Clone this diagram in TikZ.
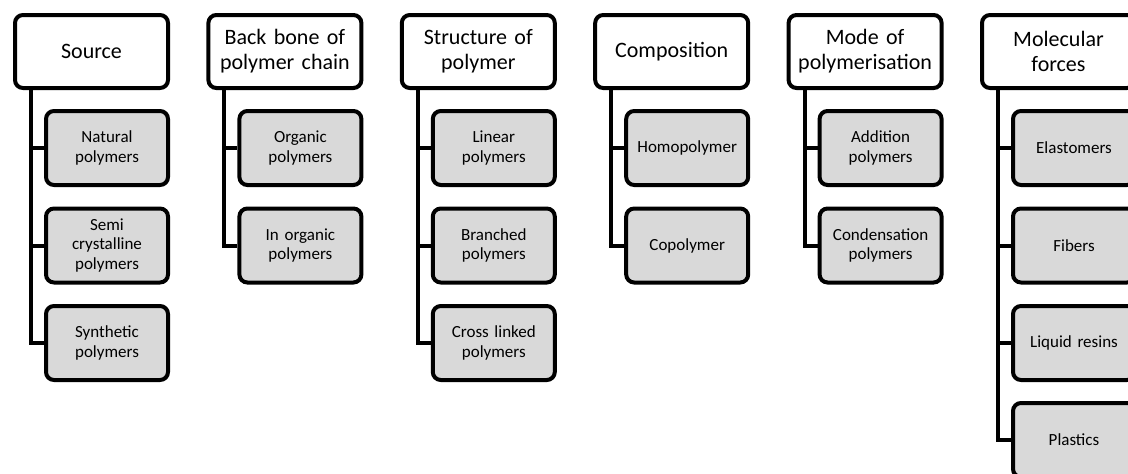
\documentclass[tikz,border=0pt]{standalone}
\usepackage{fontspec}
\setmainfont{Carlito}
\definecolor{boxgray}{HTML}{D9D9D9}
\begin{document}
\begin{tikzpicture}[x=1pt,y=-1pt,
  parentbox/.style={draw, line width=4pt, rounded corners=8pt, fill=white,
    minimum width=153pt, minimum height=73pt, text width=150pt, align=center,
    font=\fontsize{22}{25}\selectfont, inner sep=0pt},
  childbox/.style={draw, line width=4pt, rounded corners=8pt, fill=boxgray,
    minimum width=122pt, minimum height=74pt, text width=118pt, align=center,
    font=\fontsize{17}{19.5}\selectfont, inner sep=0pt},
  link/.style={line width=4pt}]
\useasboundingbox (0,0) rectangle (1128,474);
\fill[white] (0,0) rectangle (1128,474);

% column 1: Source
\node[parentbox] (p1) at (91.5,51.5) {Source};
\node[childbox] (c11) at (107,148) {Natural\\polymers};
\node[childbox] (c12) at (107,245.5) {Semi\\crystalline\\polymers};
\node[childbox] (c13) at (107,343) {Synthetic\\polymers};
\coordinate (v1) at (31,0);
\draw[link] (p1.south -| v1) |- (c13.west);
\draw[link] (c11.west -| v1) -- (c11.west);
\draw[link] (c12.west -| v1) -- (c12.west);

% column 2: Back bone
\node[parentbox] (p2) at (284.9,51.5) {Back bone of\\polymer chain};
\node[childbox] (c21) at (300.4,148) {Organic\\polymers};
\node[childbox] (c22) at (300.4,245.5) {In organic\\polymers};
\coordinate (v2) at (224.4,0);
\draw[link] (p2.south -| v2) |- (c22.west);
\draw[link] (c21.west -| v2) -- (c21.west);

% column 3: Structure
\node[parentbox] (p3) at (478.3,51.5) {Structure of\\polymer};
\node[childbox] (c31) at (493.8,148) {Linear\\polymers};
\node[childbox] (c32) at (493.8,245.5) {Branched\\polymers};
\node[childbox] (c33) at (493.8,343) {Cross linked\\polymers};
\coordinate (v3) at (417.8,0);
\draw[link] (p3.south -| v3) |- (c33.west);
\draw[link] (c31.west -| v3) -- (c31.west);
\draw[link] (c32.west -| v3) -- (c32.west);

% column 4: Composition
\node[parentbox] (p4) at (671.7,51.5) {Composition};
\node[childbox] (c41) at (687.2,148) {Homopolymer};
\node[childbox] (c42) at (687.2,245.5) {Copolymer};
\coordinate (v4) at (611.2,0);
\draw[link] (p4.south -| v4) |- (c42.west);
\draw[link] (c41.west -| v4) -- (c41.west);

% column 5: Mode
\node[parentbox] (p5) at (865.1,51.5) {Mode of\\polymerisation};
\node[childbox] (c51) at (880.6,148) {Addition\\polymers};
\node[childbox] (c52) at (880.6,245.5) {Condensation\\polymers};
\coordinate (v5) at (804.6,0);
\draw[link] (p5.south -| v5) |- (c52.west);
\draw[link] (c51.west -| v5) -- (c51.west);

% column 6: Molecular forces
\node[parentbox] (p6) at (1058.5,51.5) {Molecular\\forces};
\node[childbox] (c61) at (1074,148) {Elastomers};
\node[childbox] (c62) at (1074,245.5) {Fibers};
\node[childbox] (c63) at (1074,343) {Liquid resins};
\node[childbox] (c64) at (1074,440) {Plastics};
\coordinate (v6) at (998,0);
\draw[link] (p6.south -| v6) |- (c64.west);
\draw[link] (c61.west -| v6) -- (c61.west);
\draw[link] (c62.west -| v6) -- (c62.west);
\draw[link] (c63.west -| v6) -- (c63.west);
\end{tikzpicture}
\end{document}
